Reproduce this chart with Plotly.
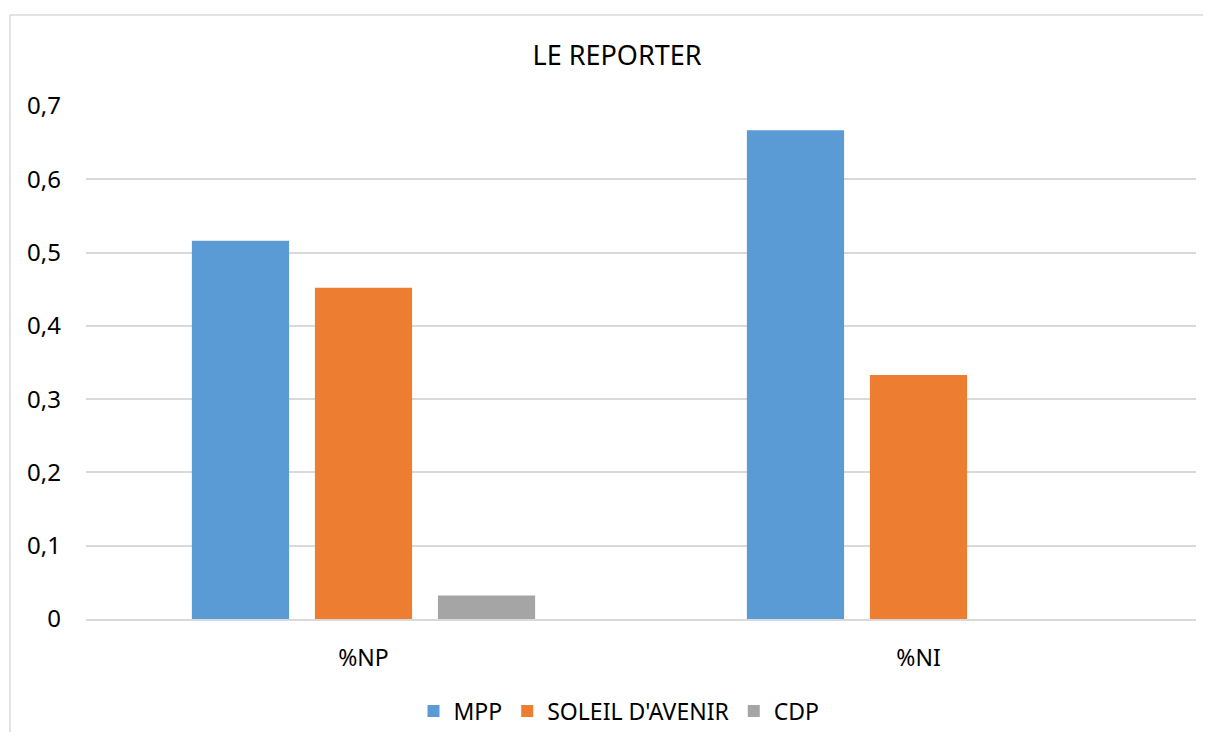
"""LE REPORTER - grouped bar chart."""

import plotly.graph_objects as go

categories = ["%NP", "%NI"]
series_names = ["MPP", "SOLEIL D'AVENIR", "CDP"]
mpp_values = [0.516, 0.667]
soleil_values = [0.452, 0.333]
cdp_values = [0.032, 0.0]
colors = ["#5b9bd5", "#ed7d31", "#a5a5a5"]
y_ticks = [0, 0.1, 0.2, 0.3, 0.4, 0.5, 0.6, 0.7]

FONT = "Noto Sans, Liberation Sans, sans-serif"

# figure sits 8px inside the page (body margin), so size it to fit
FIG_W, FIG_H = 1195, 724
L, T, W, H = 78, 98, 1110, 513

fig = go.Figure()

for name, values, color in zip(
    series_names, [mpp_values, soleil_values, cdp_values], colors
):
    fig.add_trace(
        go.Bar(
            x=categories,
            y=values,
            name=name,
            marker_color=color,
            marker_line_width=0,
        )
    )

# Outer chart border: only the left and top edges are visible in the source
border_x = (2 - L) / W
border_top = (T + H - 7) / H
border = dict(color="#d9d9d9", width=1.5)
fig.add_shape(
    type="line", xref="paper", yref="paper",
    x0=border_x, x1=border_x, y0=(T + H - FIG_H - 20) / H, y1=border_top,
    line=border, layer="below",
)
fig.add_shape(
    type="line", xref="paper", yref="paper",
    x0=border_x, x1=(FIG_W + 20 - L) / W, y0=border_top, y1=border_top,
    line=border, layer="below",
)

fig.update_layout(
    width=FIG_W,
    height=FIG_H,
    margin=dict(l=L, r=FIG_W - L - W, t=T, b=FIG_H - T - H, autoexpand=False),
    paper_bgcolor="white",
    plot_bgcolor="white",
    separators=", ",
    barmode="group",
    bargap=0.335,
    bargroupgap=0.21,
    font=dict(family=FONT, size=22, color="#000000"),
    title=dict(
        text="LE REPORTER",
        x=609 / FIG_W,
        xanchor="center",
        y=1 - 48 / FIG_H,
        yanchor="middle",
        font=dict(family=FONT, size=27, color="#000000"),
    ),
    xaxis=dict(
        showgrid=False,
        showline=True,
        linecolor="#d9d9d9",
        linewidth=1.5,
        ticks="",
        ticklabelstandoff=18,
        tickfont=dict(size=23),
    ),
    yaxis=dict(
        range=[0, 0.7],
        tickvals=y_ticks,
        tickformat=".1~f",
        showgrid=True,
        gridcolor="#d9d9d9",
        gridwidth=1.5,
        zeroline=False,
        showline=False,
        ticklabelstandoff=24,
        tickfont=dict(size=24),
    ),
    legend=dict(
        orientation="h",
        x=(611 - L) / W,
        xanchor="center",
        y=-(703 - T - H) / H,
        yanchor="middle",
        font=dict(size=23),
        itemwidth=30,
        traceorder="normal",
    ),
)

fig.write_html("out.html")
